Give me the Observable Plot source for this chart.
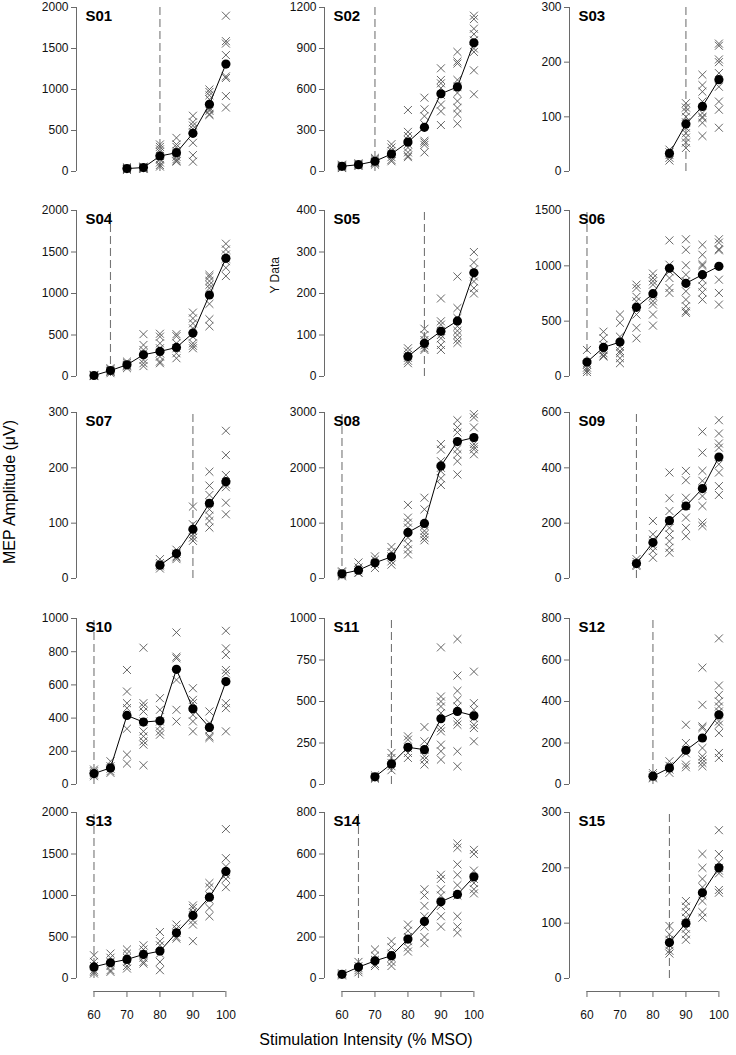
<!DOCTYPE html>
<html>
<head>
<meta charset="utf-8">
<script src="https://cdn.jsdelivr.net/npm/d3@7"></script>
<script src="https://cdn.jsdelivr.net/npm/@observablehq/plot@0.6"></script>
<style>
  html, body { margin: 0; padding: 0; background: #fff; }
  #root { position: relative; width: 736px; height: 1055px; background: #fff; overflow: hidden;
          font-family: "Liberation Sans", Arial, Helvetica, sans-serif; color: #000; }
  .panel { position: absolute; }
  .ytitle { position: absolute; left: 10px; top: 492px; transform: translate(-50%, -50%) rotate(-90deg);
            font-size: 16px; white-space: nowrap; }
  .xtitle { position: absolute; left: 366px; top: 1040px; transform: translate(-50%, -50%);
            font-size: 16px; white-space: nowrap; }
</style>
</head>
<body>
<div id="root">
  <div class="ytitle">MEP Amplitude (μV)</div>
  <div class="xtitle">Stimulation Intensity (% MSO)</div>
</div>
<script>
// ---------- data ----------
const intensities = [60, 65, 70, 75, 80, 85, 90, 95, 100];
const xTicks = [60, 70, 80, 90, 100];
const subjects = ["S01","S02","S03","S04","S05","S06","S07","S08","S09","S10","S11","S12","S13","S14","S15"];
const yMax  = [2000, 1200, 300, 2000, 400, 1500, 300, 3000, 600, 1000, 1000, 800, 2000, 800, 300];
const yStep = [500, 300, 100, 500, 100, 500, 100, 1000, 200, 200, 250, 200, 500, 200, 100];
const thresholds = [80, 70, 90, 65, 85, 60, 90, 60, 75, 60, 75, 80, 60, 65, 85];

const S01_means = [null, null, 36, 48, 189, 229, 466, 820, 1310];
const S01_trials = [[], [], [20,30,35,40,45,30,25,50], [30,45,50,60,40,55,35],
  [330,300,270,240,190,150,110,80,60], [410,330,300,250,220,180,150,130,120],
  [680,600,560,520,480,350,200,120], [1000,970,930,880,780,740,700,690,760],
  [1900,1590,1560,1420,1160,1140,920,780]];

const S02_means = [38, 50, 75, 128, 215, 323, 569, 619, 942];
const S02_trials = [[25,30,40,45,35,50], [40,50,55,60,45], [50,60,70,80,90,100,65],
  [200,175,150,130,105,85,75], [450,290,260,230,200,175,140,115,105],
  [540,455,405,345,225,212,195,140], [755,670,645,610,490,440,340,560],
  [875,805,790,670,620,575,515,465,420,350], [1140,1115,1045,1005,960,900,875,740,565]];

const S03_means = [null, null, null, null, null, 33, 87, 119, 168];
const S03_trials = [[], [], [], [], [], [40,35,30,25,20],
  [125,117,110,100,90,80,70,62,53,43], [177,158,146,128,107,98,89,65,100],
  [234,230,205,200,180,155,128,113,80]];

const S04_means = [12, 72, 141, 262, 302, 350, 523, 982, 1424];
const S04_trials = [[5,10,15,20,12], [40,55,70,85,100,60], [100,120,140,160,180,130],
  [510,380,320,280,200,160,125], [515,480,400,340,280,240,180,160],
  [510,485,400,340,280,220], [770,700,640,580,480,400,340,370],
  [1225,1200,1150,1105,1065,875,690,605], [1600,1530,1470,1390,1310,1210,1420]];

const S05_means = [null, null, null, null, 48, 80, 109, 134, 250];
const S05_trials = [[], [], [], [], [68,60,52,45,38,32], [115,100,88,75,68,64],
  [188,133,125,110,100,92,76,64], [241,165,141,121,110,100,89,81],
  [300,275,258,241,229,213,200]];

const S06_means = [130, 263, 311, 625, 748, 978, 842, 920, 996];
const S06_trials = [[240,110,80,60,40], [405,345,285,240,210,190,180],
  [560,485,360,270,210,165,120,230], [830,800,720,680,560,440,345],
  [930,890,860,830,725,680,650,560,460], [1230,1010,890,800,755,950],
  [1240,1145,1005,920,860,770,695,635,590,575], [1190,1100,1015,1000,875,815,760,695],
  [1240,1210,1150,1140,875,755,650]];

const S07_means = [null, null, null, null, 24, 45, 89, 136, 175];
const S07_trials = [[], [], [], [], [35,28,22,18,25], [52,45,40,38,35],
  [130,98,86,80,74,68], [193,168,151,137,125,113,104,92], [267,223,187,170,165,137,116]];

const S08_means = [85, 151, 284, 392, 833, 996, 2034, 2475, 2547];
const S08_trials = [[40,80,110,130,60], [290,200,150,110,100], [400,340,260,190],
  [570,480,400,310,250], [1330,1100,1010,920,740,620,525,435],
  [1460,1250,950,860,740,690,800], [2430,2330,2120,1940,1810,1690,2000],
  [2860,2730,2640,2340,2245,2120,1880], [2970,2910,2730,2430,2380,2335,2245]];

const S09_means = [null, null, null, 54, 130, 209, 262, 325, 439];
const S09_trials = [[], [], [], [70,60,50,45], [208,160,140,117,100,75],
  [383,290,244,208,183,159,135,111,93], [389,355,292,262,220,183,153],
  [531,455,389,353,298,262,202,190], [572,524,488,473,413,383,334,302]];

const S10_means = [66, 100, 416, 376, 384, 694, 456, 344, 620];
const S10_trials = [[80,70,60,50,90], [140,110,95,80,70], [690,560,490,460,336,180,126],
  [824,490,470,440,380,320,290,260,240,116], [520,450,380,350,320,300],
  [916,770,760,630,450,380], [580,510,490,420,380,320], [440,370,330,290,280],
  [926,820,780,690,670,490,460,320]];

const S11_means = [null, null, 46, 124, 224, 210, 396, 440, 414];
const S11_trials = [[], [], [55,45,35,40], [190,160,130,110,86], [290,270,220,190,160],
  [346,260,210,170,150,120], [826,530,500,470,430,340,320,240,200,150],
  [876,656,564,510,470,380,360,200,110], [680,490,450,400,360,340,260]];

const S12_means = [null, null, null, null, 40, 80, 165, 224, 336];
const S12_trials = [[], [], [], [], [55,45,35,30], [112,90,72,56], [288,200,150,96,83],
  [563,384,280,272,176,136,120,104,88], [704,477,432,400,376,352,304,288,248,152,128]];

const S13_means = [140, 190, 230, 290, 330, 550, 760, 980, 1290];
const S13_trials = [[280,200,150,100,60,80], [300,250,200,150,100,80], [350,300,250,200,150,120],
  [400,350,300,250,200,180], [560,450,400,300,200,100], [650,600,550,500,480],
  [880,850,800,700,650,450], [1150,1100,1000,950,850,750], [1800,1450,1350,1250,1200,1100]];

const S14_means = [20, 55, 85, 110, 190, 275, 370, 405, 490];
const S14_trials = [[25,20,15], [80,60,50,40,30], [140,110,90,70,60], [180,150,120,100,80,60],
  [260,230,200,180,150,130], [430,400,350,300,250,200,170], [500,480,430,400,350,300,250],
  [650,630,550,500,450,400,300,250,220], [620,600,520,480,460,430,410]];

const S15_means = [null, null, null, null, null, 65, 100, 155, 200];
const S15_trials = [[], [], [], [], [], [95,80,70,60,50,45], [140,130,120,110,100,90,80,70],
  [225,200,180,165,150,140,120,110], [268,225,210,200,195,190,160,155]];

const allMeans = [S01_means,S02_means,S03_means,S04_means,S05_means,S06_means,S07_means,S08_means,
  S09_means,S10_means,S11_means,S12_means,S13_means,S14_means,S15_means];
const allTrials = [S01_trials,S02_trials,S03_trials,S04_trials,S05_trials,S06_trials,S07_trials,S08_trials,
  S09_trials,S10_trials,S11_trials,S12_trials,S13_trials,S14_trials,S15_trials];

// ---------- layout ----------
const colAxis = [76, 324, 569];
const rowTop = [7, 210, 412, 618, 812];
const plotH = 166, plotW = 156;
const mL = 60, mT = 10, mR = 12;
const xDomain = [54.7, 102];
const font = "Liberation Sans, Arial, Helvetica, sans-serif";

const root = document.getElementById("root");

subjects.forEach((name, i) => {
  const r = Math.floor(i / 3), c = i % 3;
  const bottom = r === 4;
  const mB = bottom ? 48 : 10;
  const ymax = yMax[i];
  const means = intensities.map((x, k) => ({x, y: allMeans[i][k]})).filter(d => d.y != null);
  const trials = intensities.flatMap((x, k) => allTrials[i][k].map(y => ({x, y})));
  const yTicks = d3.range(0, ymax + 1, yStep[i]);
  const h = r === 0 ? plotH - 2 : plotH;

  const marks = [
    Plot.ruleX([xDomain[0]], {y1: 0, y2: ymax, stroke: "#6a6a6a", strokeWidth: 1}),
    Plot.axisY({ticks: yTicks, tickSize: 5, tickPadding: 3, stroke: "#6a6a6a", fill: "#111",
      fontSize: 12, label: null, tickFormat: d => String(d)}),
    Plot.ruleX([thresholds[i]], {y1: 0, y2: ymax, stroke: "#767676", strokeWidth: 1.1, strokeDasharray: "8,4"}),
    Plot.dot(trials, {x: "x", y: "y", symbol: "times", r: 3.7, stroke: "#555", strokeWidth: 0.9}),
    Plot.line(means, {x: "x", y: "y", stroke: "#000", strokeWidth: 1}),
    Plot.dot(means, {x: "x", y: "y", r: 4.6, fill: "#000", stroke: "none"}),
    Plot.text([name], {frameAnchor: "top-left", dx: 9, dy: 3, textAnchor: "start", lineAnchor: "top",
      fontWeight: "bold", fontSize: 15, fill: "#000"})
  ];
  if (name === "S05") {
    marks.push(Plot.text(["Y Data"], {frameAnchor: "left", dx: -49, rotate: -90, fontSize: 12, fill: "#111"}));
  }
  if (bottom) {
    marks.push(Plot.ruleY([0], {x1: 60, x2: 100, dy: 13, stroke: "#6a6a6a", strokeWidth: 1}));
    marks.push(Plot.axisX({ticks: xTicks, tickSize: 6, tickPadding: 13, dy: 13, stroke: "#6a6a6a",
      fill: "#111", fontSize: 12, label: null, tickFormat: d => String(d)}));
  }

  const chart = Plot.plot({
    width: mL + plotW + mR,
    height: mT + h + mB,
    marginLeft: mL, marginRight: mR, marginTop: mT, marginBottom: mB,
    style: {background: "transparent", overflow: "visible", fontFamily: font, color: "#000"},
    x: {domain: xDomain, axis: null},
    y: {domain: [0, ymax], axis: null},
    marks
  });
  chart.classList.add("panel");
  chart.style.position = "absolute";
  chart.style.left = (colAxis[c] - mL) + "px";
  chart.style.top = (rowTop[r] - mT) + "px";
  root.appendChild(chart);
});
</script>
</body>
</html>
